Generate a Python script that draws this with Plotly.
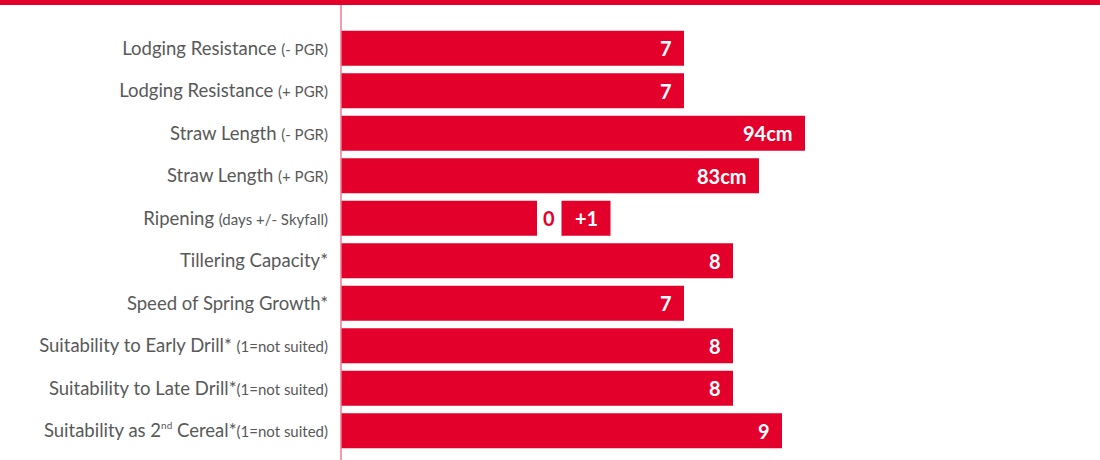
import plotly.graph_objects as go

# ---- data ----
SMALL = "<span style='font-size:15px'>"
categories = [
    f"Lodging Resistance {SMALL}(- PGR)</span>",
    f"Lodging Resistance {SMALL}(+ PGR)</span>",
    f"Straw Length {SMALL}(- PGR)</span>",
    f"Straw Length {SMALL}(+ PGR)</span>",
    f"Ripening {SMALL}(days +/- Skyfall)</span>",
    "Tillering Capacity*",
    "Speed of Spring Growth*",
    f"Suitability to Early Drill* {SMALL}(1=not suited)</span>",
    f"Suitability to Late Drill*{SMALL}(1=not suited)</span>",
    "Suitability as 2<sup><span style='font-size:10px'>nd</span></sup> Cereal*"
    f"{SMALL}(1=not suited)</span>",
]
bar_lengths = [7, 7, 9.47, 8.53, 4, 8, 7, 8, 8, 9]
value_labels = ["7", "7", "94cm", "83cm", "", "8", "7", "8", "8", "9"]
ripening_zero_label = "0"
ripening_extra_base = 4.5
ripening_extra_length = 1
ripening_extra_label = "+1"

RED = "#E3002B"
GREY = "#595959"

L, R, T, B = 341, 0, 27, 8
W, H = 1100, 460
plot_w = W - L - R
plot_h = H - T - B
px_per_unit = 49.0
x_max = plot_w / px_per_unit

fig = go.Figure()
fig.add_trace(go.Bar(
    y=categories, x=bar_lengths, orientation="h",
    marker=dict(color=RED, line=dict(width=0)),
    hoverinfo="skip", showlegend=False,
))
fig.add_trace(go.Bar(
    y=[categories[4]], x=[ripening_extra_length], base=[ripening_extra_base],
    orientation="h", marker=dict(color=RED, line=dict(width=0)),
    hoverinfo="skip", showlegend=False,
))

VAL_FONT = dict(family="Lato", size=20, color="white")
annotations = []
for cat, v, lab in zip(categories, bar_lengths, value_labels):
    if lab:
        annotations.append(dict(
            x=v, y=cat, xref="x", yref="y", text=f"<b>{lab}</b>",
            showarrow=False, xanchor="right", xshift=-10, font=VAL_FONT,
        ))
annotations.append(dict(
    x=bar_lengths[4], y=categories[4], xref="x", yref="y",
    text=f"<b>{ripening_zero_label}</b>", showarrow=False,
    xanchor="left", xshift=4, font=dict(family="Lato", size=20, color=RED),
))
annotations.append(dict(
    x=ripening_extra_base + ripening_extra_length / 2, y=categories[4],
    xref="x", yref="y", text=f"<b>{ripening_extra_label}</b>", showarrow=False,
    xanchor="center", font=VAL_FONT,
))

shapes = [
    # top red band
    dict(type="rect", xref="paper", yref="paper",
         x0=-L / plot_w, x1=1.0, y0=1 + (T - 5) / plot_h, y1=1 + T / plot_h + 0.01,
         fillcolor=RED, line=dict(width=0), layer="above"),
    # vertical axis line
    dict(type="line", xref="paper", yref="paper",
         x0=0, x1=0, y0=-B / plot_h - 0.01, y1=1 + (T - 5) / plot_h,
         line=dict(color="#EE7A8E", width=1.5), layer="above"),
]

fig.update_layout(
    width=W, height=H,
    margin=dict(l=L, r=R, t=T, b=B),
    paper_bgcolor="white", plot_bgcolor="white",
    barmode="overlay", bargap=0.176,
    xaxis=dict(range=[0, x_max], visible=False, fixedrange=True),
    yaxis=dict(autorange="reversed", showgrid=False, zeroline=False,
               showline=False, ticks="", ticklabelstandoff=12,
               tickfont=dict(family="Lato", size=18.5, color=GREY),
               fixedrange=True),
    annotations=annotations, shapes=shapes,
)

fig.write_html("out.html", config={"displayModeBar": False},
               post_script="document.body.style.margin='0';")
